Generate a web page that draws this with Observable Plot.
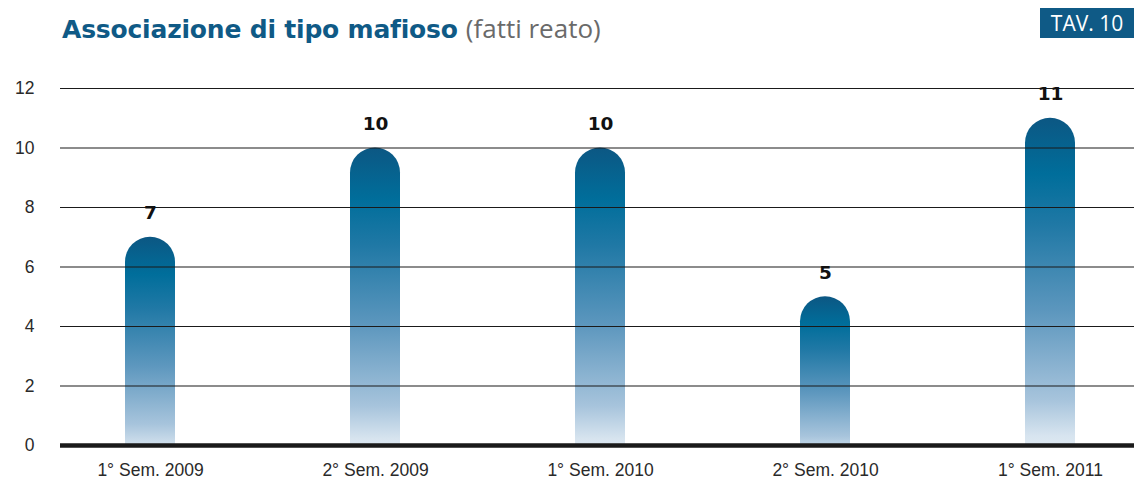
<!DOCTYPE html>
<html><head><meta charset="utf-8">
<script src="https://cdn.jsdelivr.net/npm/d3@7"></script>
<script src="https://cdn.jsdelivr.net/npm/@observablehq/plot@0.6"></script>
<style>
body{margin:0;background:#fff;width:1134px;height:482px;overflow:hidden;font-family:"Liberation Sans",Arial,sans-serif;}
#head{position:relative;height:60px;}
#title{position:absolute;left:62px;top:16px;white-space:nowrap;line-height:25px;}
#title b{font-family:"DejaVu Sans",sans-serif;font-weight:bold;color:#0f5a86;font-size:25px;letter-spacing:-0.2px;}
#title span{color:#6a6a6a;font-weight:normal;font-family:"Open Sans","Liberation Sans",sans-serif;font-size:26px;margin-left:8px;}
#tav{position:absolute;left:1040px;top:8px;width:94px;height:30px;background:#0f5a86;color:#fff;font-size:21px;line-height:30px;text-align:center;font-family:"Open Sans","Liberation Sans",sans-serif;}
</style></head>
<body>
<div id="head"><div id="title"><b>Associazione di tipo mafioso</b><span>(fatti reato)</span></div><div id="tav">TAV. 10</div></div>
<div id="chart"></div>
<script>
const categories = ["1° Sem. 2009","2° Sem. 2009","1° Sem. 2010","2° Sem. 2010","1° Sem. 2011"];
const values = [7,10,10,5,11];
const yTicks = [0,2,4,6,8,10,12];
const data = categories.map((c,i)=>({cat:c, v:values[i]}));

const plot = Plot.plot({
  width:1134, height:422,
  marginTop:28, marginBottom:37, marginLeft:60, marginRight:0,
  style:{fontFamily:"'Liberation Sans',Arial,sans-serif", fontSize:"17.5px", color:"#333", background:"#fff"},
  x:{domain:categories, range:[63,1137], padding:0.778, paddingOuter:0.2756, label:null, tickSize:0, tickPadding:18},
  y:{domain:[0,12], ticks:yTicks, label:null, tickSize:0, tickPadding:26},
  marks:[
    Plot.barY(data,{x:"cat", y:"v", fill:"url(#bargrad)", rx:25, insetBottom:-26, clip:true}),
    Plot.ruleY(yTicks.filter(d=>d>0),{stroke:"#1a1a1a", strokeWidth:1.1}),
    Plot.ruleY([0],{stroke:"#1a1a1a", strokeWidth:4.5}),
    Plot.text(data,{x:"cat", y:"v", text:d=>String(d.v), dy:-24, fontSize:18.5, fontWeight:"bold", fill:"#111", fontFamily:"'DejaVu Sans',sans-serif"})
  ]
});
const svg = d3.select(plot);
svg.selectAll("g[aria-label='x-axis tick label'] text, g[aria-label='y-axis tick label'] text").attr("fill","#2a2a2a");
const defs = svg.insert("defs",":first-child");
const g = defs.append("linearGradient").attr("id","bargrad").attr("x1",0).attr("y1",0).attr("x2",0).attr("y2",1);
[[0,"#0c5783"],[0.16,"#006e9b"],[0.3,"#1f78a5"],[0.55,"#5d97be"],[0.8,"#a7c4dc"],[0.9,"#d7e4ef"],[1,"#eef3f8"]].forEach(([o,c])=>g.append("stop").attr("offset",o).attr("stop-color",c));
document.getElementById("chart").appendChild(plot);
</script>
</body></html>
